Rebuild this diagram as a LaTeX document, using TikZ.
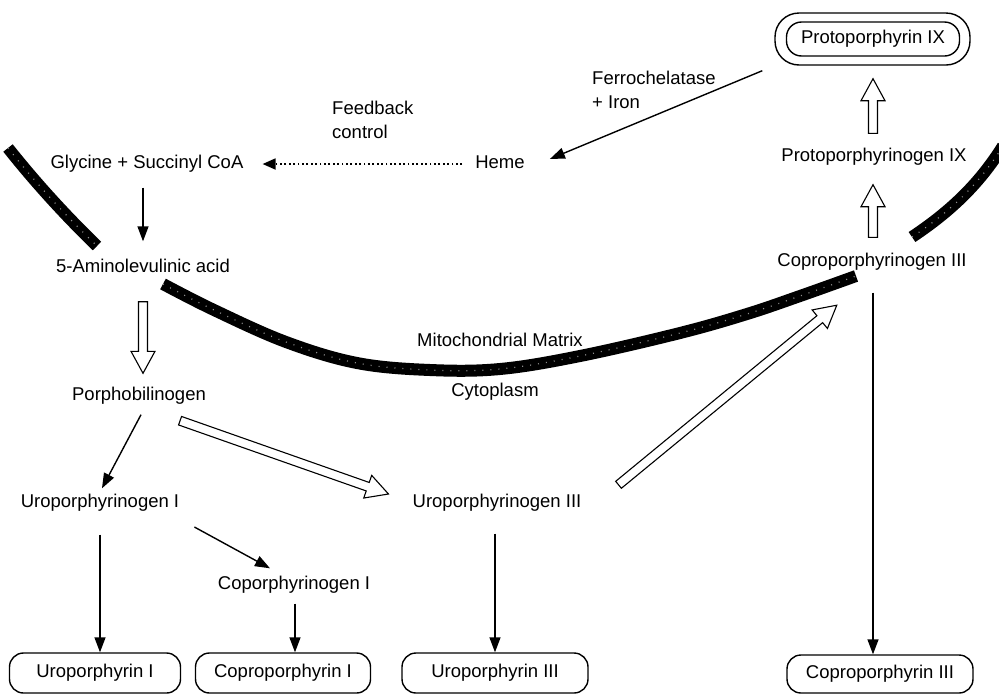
\documentclass[tikz,border=0pt]{standalone}
\usepackage{fontspec}
\setmainfont{Liberation Sans}
\usetikzlibrary{arrows.meta,calc}
\newcommand\hollowarrow[2]{%
  \coordinate (haS) at (#1);
  \coordinate (haE) at (#2);
  \coordinate (haH) at ($(haE)!22pt!(haS)$);
  \draw[hollow]
    ($(haS)!4.5pt!90:(haE)$) -- ($(haH)!4.5pt!90:(haE)$) -- ($(haH)!12pt!90:(haE)$) -- (haE)
    -- ($(haH)!12pt!-90:(haE)$) -- ($(haH)!4.5pt!-90:(haE)$) -- ($(haS)!4.5pt!-90:(haE)$) -- cycle;}
\begin{document}
\begin{tikzpicture}[x=1pt,y=-1pt,
  lbl/.style={font=\fontsize{18.5}{24}\selectfont, inner sep=0pt, text height=13pt, text depth=4pt},
  lbltwo/.style={font=\fontsize{18.5}{24}\selectfont, inner sep=0pt, align=left, anchor=west},
  endbox/.style={draw, line width=1.4pt, rounded corners=14pt, minimum height=40pt, inner sep=0pt,
    font=\fontsize{18.5}{24}\selectfont},
  arr/.style={line width=1.4pt, -{Triangle[length=15pt,width=11pt]}},
  dotarr/.style={line width=1.8pt, dash pattern=on 1.8pt off 2.6pt, -{Triangle[length=13pt,width=11pt]}},
  hollow/.style={line width=1.1pt, fill=white, line join=miter},
  membrane/.style={line width=12pt, black},
  speckle/.style={line width=1.2pt, black!45, dash pattern=on 1pt off 7pt}]
\fill[white] (0,0) rectangle (999,697);
\useasboundingbox (0,0) rectangle (999,697);

% membrane
\draw[membrane] (8,148) .. controls (35,182) and (65,215) .. (97,246);
\draw[speckle] (8,148) .. controls (35,182) and (65,215) .. (97,246);
\draw[membrane] plot[smooth, tension=0.6] coordinates {(163,284) (214,310) (286,342) (357,363) (430,370) (500,369) (580,356) (680,333) (747,314) (800,296) (856,276)};
\draw[speckle] plot[smooth, tension=0.6] coordinates {(163,284) (214,310) (286,342) (357,363) (430,370) (500,369) (580,356) (680,333) (747,314) (800,296) (856,276)};
\draw[membrane] (912,237) .. controls (948,213) and (978,186) .. (1003,146);
\draw[speckle] (912,237) .. controls (948,213) and (978,186) .. (1003,146);

% labels
\node[lbl] (glycine) at (147,164) {Glycine + Succinyl CoA};
\node[lbl] (heme) at (500,164) {Heme};
\node[lbl] (ala) at (143,268) {5-Aminolevulinic acid};
\node[lbl] (pbg) at (139,396) {Porphobilinogen};
\node[lbl] (urogenI) at (100,503) {Uroporphyrinogen I};
\node[lbl] (urogenIII) at (497,503) {Uroporphyrinogen III};
\node[lbl] (coprogenI) at (294,585) {Coporphyrinogen I};
\node[lbl] (protogen) at (874,157) {Protoporphyrinogen IX};
\node[lbl] (coprogen) at (872,262) {Coproporphyrinogen III};
\node[lbl] (matrix) at (500,342) {Mitochondrial Matrix};
\node[lbl] (cyto) at (495,392) {Cytoplasm};
\node[lbltwo] (feedback) at (332,120) {Feedback\\control};
\node[lbltwo] (ferro) at (592,90) {Ferrochelatase\\+ Iron};

% end products
\node[draw, line width=1.4pt, rounded corners=24pt, minimum width=195pt, minimum height=52pt] (protoout) at (872.5,39) {};
\node[endbox, minimum width=173pt, minimum height=34pt, rounded corners=15pt] (proto) at (873,39) {Protoporphyrin IX};
\node[endbox, minimum width=171pt] (uroI) at (95,673) {Uroporphyrin I};
\node[endbox, minimum width=175pt] (coproI) at (283,673) {Coproporphyrin I};
\node[endbox, minimum width=186pt] (uroIII) at (495,673) {Uroporphyrin III};
\node[endbox, minimum width=186pt, minimum height=38pt] (coproIII) at (880,674) {Coproporphyrin III};

% solid arrows
\draw[arr] ($(glycine.south)+(-4,15)$) -- ($(ala.north)+(0,-18)$);
\draw[dotarr] ($(heme.west)+(-13,0)$) -- ($(glycine.east)+(19,0)$);
\draw[arr] ($(protoout.south west)+(-12,5)$) -- ($(heme.east)+(25,-5)$);
\draw[arr] ($(pbg.south)+(2,10)$) -- ($(urogenI.north)+(2,-6)$);
\draw[arr] ($(urogenI.east)+(15,24)$) -- ($(coprogenI.north)+(-24,-8)$);
\draw[arr] ($(urogenI.south)+(0,23)$) -- (uroI.north -| urogenI.south);
\draw[arr] ($(coprogenI.south)+(1,10)$) -- ($(coproI.north -| coprogenI.south)+(1,0)$);
\draw[arr] ($(urogenIII.south)+(-2,22)$) -- ($(uroIII.north -| urogenIII.south)+(-2,0)$);
\draw[arr] ($(coprogen.south)+(1,22)$) -- ($(coproIII.north -| coprogen.south)+(1,0)$);

% hollow arrows
\hollowarrow{$(ala.south)+(0,25)$}{$(pbg.north)+(4,-14)$}
\hollowarrow{$(pbg.south east)+(-26,16)$}{$(urogenIII.west)+(-24,-9)$}
\hollowarrow{$(urogenIII.north east)+(37,-9.5)$}{$(coprogen.south west)+(59.6,34.5)$}
\hollowarrow{$(coprogen.north)+(1,-16)$}{$(protogen.south)+(-1,19)$}
\hollowarrow{$(protogen.north)+(-1,-15)$}{$(protoout.south)+(0.5,13)$}
\end{tikzpicture}
\end{document}
